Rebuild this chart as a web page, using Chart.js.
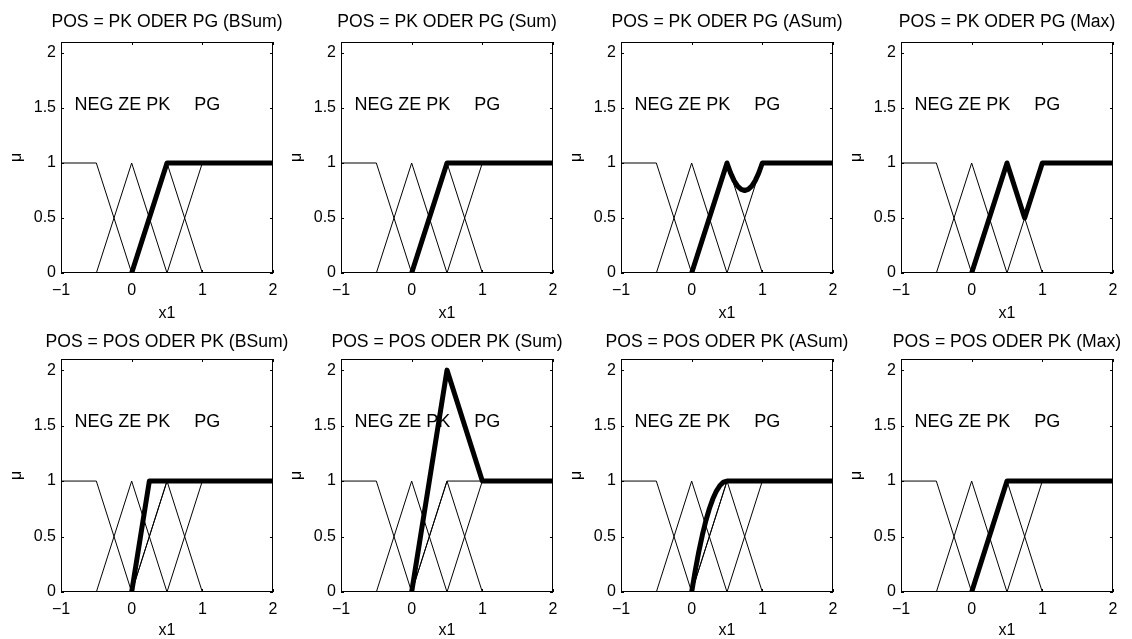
<!DOCTYPE html>
<html><head><meta charset="utf-8">
<script src="https://cdn.jsdelivr.net/npm/chart.js@4/dist/chart.umd.min.js"></script>
<style>
html,body{margin:0;padding:0;background:#fff;}
#wrap{position:relative;width:1132px;height:639px;overflow:hidden;background:#fff;}
#wrap canvas{position:absolute;left:0;top:0;}
</style></head><body><div id="wrap"></div>
<script>
// ---- data ----
const xTicks = [-1, 0, 1, 2];
const yTicks = [0, 0.5, 1, 1.5, 2];
const negX = [-1, -0.5, 0, 2],        negY = [1, 1, 0, 0];
const zeX  = [-1, -0.5, 0, 0.5, 2],   zeY  = [0, 0, 1, 0, 0];
const pkX  = [-1, 0, 0.5, 1, 2],      pkY  = [0, 0, 1, 0, 0];
const pgX  = [-1, 0.5, 1, 2],         pgY  = [0, 0, 1, 1];
const posX = [-1, 0, 0.5, 2],         posY = [0, 0, 1, 1];
const setLabels = ['NEG', 'ZE', 'PK', 'PG'];
const setLabelX = [-0.81, -0.19, 0.207, 0.886];
const setLabelY = 1.53;
const titles = [
  'POS = PK ODER PG (BSum)', 'POS = PK ODER PG (Sum)', 'POS = PK ODER PG (ASum)', 'POS = PK ODER PG (Max)',
  'POS = POS ODER PK (BSum)', 'POS = POS ODER PK (Sum)', 'POS = POS ODER PK (ASum)', 'POS = POS ODER PK (Max)'
];
// thick result curves
const r1BSumX = [0, 0.5, 2], r1BSumY = [0, 1, 1];
const r1SumX  = [0, 0.5, 2], r1SumY  = [0, 1, 1];
const r1ASumX = [0, 0.5, 0.55, 0.6, 0.65, 0.7, 0.75, 0.8, 0.85, 0.9, 0.95, 1, 2];
const r1ASumY = [0, 1, 0.91, 0.84, 0.79, 0.76, 0.75, 0.76, 0.79, 0.84, 0.91, 1, 1];
const r1MaxX  = [0, 0.5, 0.75, 1, 2], r1MaxY = [0, 1, 0.5, 1, 1];
const r2BSumX = [0, 0.25, 2], r2BSumY = [0, 1, 1];
const r2SumX  = [0, 0.5, 1, 2], r2SumY = [0, 2, 1, 1];
const r2ASumX = [0, 0.05, 0.1, 0.15, 0.2, 0.25, 0.3, 0.35, 0.4, 0.45, 0.5, 2];
const r2ASumY = [0, 0.19, 0.36, 0.51, 0.64, 0.75, 0.84, 0.91, 0.96, 0.99, 1, 1];
const r2MaxX  = [0, 0.5, 2], r2MaxY = [0, 1, 1];

const results = [
  [r1BSumX, r1BSumY], [r1SumX, r1SumY], [r1ASumX, r1ASumY], [r1MaxX, r1MaxY],
  [r2BSumX, r2BSumY], [r2SumX, r2SumY], [r2ASumX, r2ASumY], [r2MaxX, r2MaxY]
];

// ---- layout ----
const W = 1132, H = 639;
const boxes = [];
for (let r = 0; r < 2; r++) for (let c = 0; c < 4; c++) {
  boxes.push({L: 61 + 280 * c, R: 273 + 280 * c, T: r === 0 ? 42 : 359, B: r === 0 ? 273 : 592,
              tOff: r === 0 ? 15 : 12, xOff: r === 0 ? 45 : 43});
}
const FONT = "'Liberation Sans', Arial, Helvetica, sans-serif";
Chart.defaults.font.family = FONT;
Chart.defaults.font.size = 16;
Chart.defaults.color = '#000';

function ds(xs, ys, w) {
  return {
    data: xs.map((x, i) => ({x: x, y: ys[i]})),
    borderColor: '#000', backgroundColor: '#000', borderWidth: w,
    pointRadius: 0, pointHoverRadius: 0, showLine: true, fill: false, tension: 0,
    clip: 0, borderJoinStyle: w > 2 ? 'round' : 'miter', borderCapStyle: 'butt'
  };
}

const deco = {
  id: 'deco',
  afterDatasetsDraw(chart, args, opts) {
    const ctx = chart.ctx, a = chart.chartArea;
    const xs = chart.scales.x, ys = chart.scales.y;
    ctx.save();
    ctx.strokeStyle = '#000'; ctx.lineWidth = 1;
    ctx.strokeRect(a.left + 0.5, a.top + 0.5, a.right - a.left - 1, a.bottom - a.top - 1);
    ctx.beginPath();
    const tl = 3;
    yTicks.forEach(v => {
      const y = Math.round(ys.getPixelForValue(v)) + 0.5;
      ctx.moveTo(a.left, y); ctx.lineTo(a.left + tl, y);
      ctx.moveTo(a.right, y); ctx.lineTo(a.right - tl, y);
    });
    xTicks.forEach(v => {
      const x = Math.round(xs.getPixelForValue(v)) + 0.5;
      ctx.moveTo(x, a.bottom); ctx.lineTo(x, a.bottom - tl);
      ctx.moveTo(x, a.top); ctx.lineTo(x, a.top + tl);
    });
    ctx.stroke();
    ctx.fillStyle = '#000';
    ctx.font = '18px ' + FONT;
    ctx.textBaseline = 'middle'; ctx.textAlign = 'left';
    setLabels.forEach((s, i) => ctx.fillText(s, xs.getPixelForValue(setLabelX[i]), ys.getPixelForValue(setLabelY)));
    const cx = (a.left + a.right) / 2;
    ctx.textAlign = 'center'; ctx.textBaseline = 'alphabetic';
    ctx.font = '17.6px ' + FONT;
    ctx.fillText(opts.title, cx, a.top - opts.tOff);
    ctx.font = '16px ' + FONT;
    ctx.fillText('x1', cx, a.bottom + opts.xOff);
    ctx.translate(a.left - 44, (a.top + a.bottom) / 2);
    ctx.rotate(-Math.PI / 2);
    ctx.textBaseline = 'middle';
    ctx.fillText('\u03bc', 0, 0);
    ctx.restore();
  }
};

const wrap = document.getElementById('wrap');
boxes.forEach((b, i) => {
  const cv = document.createElement('canvas');
  cv.width = W; cv.height = H;
  cv.style.width = W + 'px'; cv.style.height = H + 'px';
  wrap.appendChild(cv);
  const row = i < 4 ? 0 : 1;
  const datasets = [ds(results[i][0], results[i][1], 5)];
  datasets.push(ds(negX, negY, 1), ds(zeX, zeY, 1), ds(pkX, pkY, 1), ds(pgX, pgY, 1));
  if (row === 1) datasets.push(ds(posX, posY, 1));
  new Chart(cv, {
    type: 'scatter',
    data: {datasets: datasets},
    options: {
      responsive: false, animation: false, events: [],
      layout: {padding: {left: b.L - 40, right: W - b.R, top: b.T, bottom: H - b.B - 40}},
      plugins: {legend: {display: false}, tooltip: {enabled: false},
                deco: {title: titles[i], tOff: b.tOff, xOff: b.xOff}},
      scales: {
        x: {
          type: 'linear', min: -1, max: 2,
          grid: {display: false, drawTicks: false}, border: {display: false},
          afterBuildTicks: s => { s.ticks = xTicks.map(v => ({value: v})); },
          afterFit: s => { s.height = 40; s.paddingLeft = 0; s.paddingRight = 0; },
          ticks: {padding: 8, maxRotation: 0, autoSkip: false,
                  callback: v => String(v).replace('-', '\u2212')}
        },
        y: {
          type: 'linear', min: 0, max: 2.1,
          grid: {display: false, drawTicks: false}, border: {display: false},
          afterBuildTicks: s => { s.ticks = yTicks.map(v => ({value: v})); },
          afterFit: s => { s.width = 40; s.paddingTop = 0; s.paddingBottom = 0; },
          ticks: {padding: 5, autoSkip: false, callback: v => String(v)}
        }
      }
    },
    plugins: [deco]
  });
});
</script></body></html>
